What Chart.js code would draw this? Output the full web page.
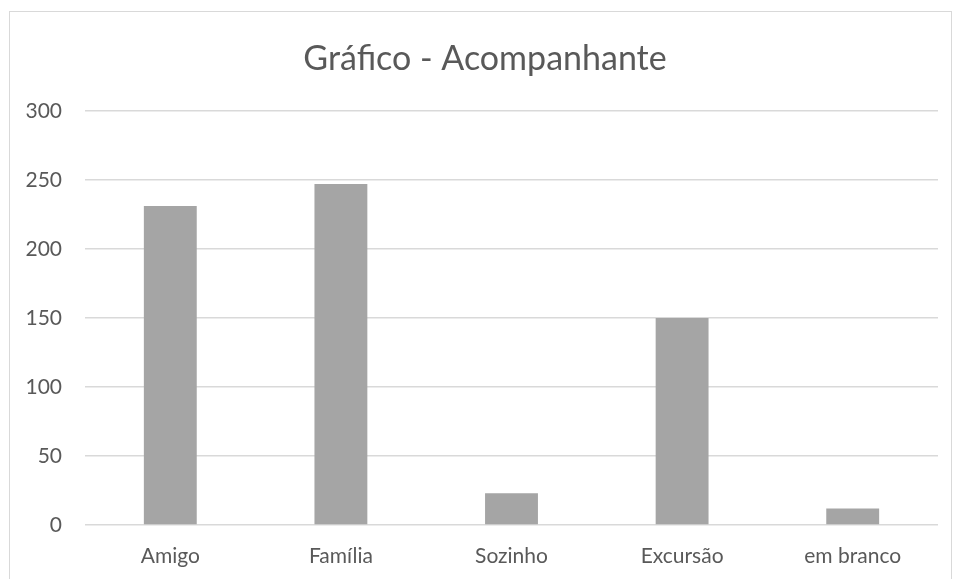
<!DOCTYPE html>
<html>
<head>
<meta charset="utf-8">
<script src="https://cdn.jsdelivr.net/npm/chart.js@4/dist/chart.umd.min.js"></script>
<style>
  html, body { margin: 0; padding: 0; background: #fff; }
  #wrap { position: relative; width: 955px; height: 579px; }
  #frame { position: absolute; left: 9px; top: 11px; width: 943px; height: 600px; border: 1px solid #d9d9d9; box-sizing: border-box; }
  canvas { position: absolute; left: 0; top: 0; }
</style>
</head>
<body>
<div id="wrap">
  <div id="frame"></div>
  <canvas id="chart" width="955" height="579"></canvas>
</div>
<script>
const categories = ["Amigo", "Família", "Sozinho", "Excursão", "em branco"];
const counts = [231, 247, 23, 150, 12];
const yTicks = [0, 50, 100, 150, 200, 250, 300];

const textColor = "#595959";
const fontFamily = "Lato, 'Open Sans', sans-serif";

// nudge the title a little to the right, like the original frame
const shiftTitle = {
  id: "shiftTitle",
  afterLayout: chart => {
    if (chart.titleBlock) chart.titleBlock.left = 32;
  }
};

const chartEl = document.getElementById("chart");
const chart = new Chart(chartEl, {
  type: "bar",
  data: {
    labels: categories,
    datasets: [
      {
        label: "Acompanhante",
        data: counts,
        backgroundColor: "#a5a5a5",
        borderWidth: 0,
        barPercentage: 0.62,
        categoryPercentage: 0.5
      }
    ]
  },
  options: {
    responsive: false,
    animation: false,
    layout: { padding: { left: 0, right: 17, top: 0, bottom: 0 } },
    plugins: {
      legend: { display: false },
      tooltip: { enabled: false },
      title: {
        display: true,
        text: "Gráfico - Acompanhante",
        color: textColor,
        font: { family: fontFamily, size: 34, weight: "normal" },
        padding: { top: 39, bottom: 31 }
      }
    },
    scales: {
      x: {
        grid: { display: false, drawTicks: false },
        border: { display: false },
        ticks: {
          color: textColor,
          font: { family: fontFamily, size: 21 },
          padding: 19
        },
        afterFit: s => { s.height = 54; }
      },
      y: {
        min: 0,
        max: 300,
        grid: { color: "#d9d9d9", lineWidth: 1.5, drawTicks: false },
        border: { display: false },
        afterBuildTicks: s => { s.ticks = yTicks.map(v => ({ value: v })); },
        ticks: {
          color: textColor,
          font: { family: fontFamily, size: 21 },
          padding: 23
        },
        afterFit: s => { s.width = 85; }
      }
    }
  },
  plugins: [shiftTitle]
});
chart.draw();
</script>
</body>
</html>
